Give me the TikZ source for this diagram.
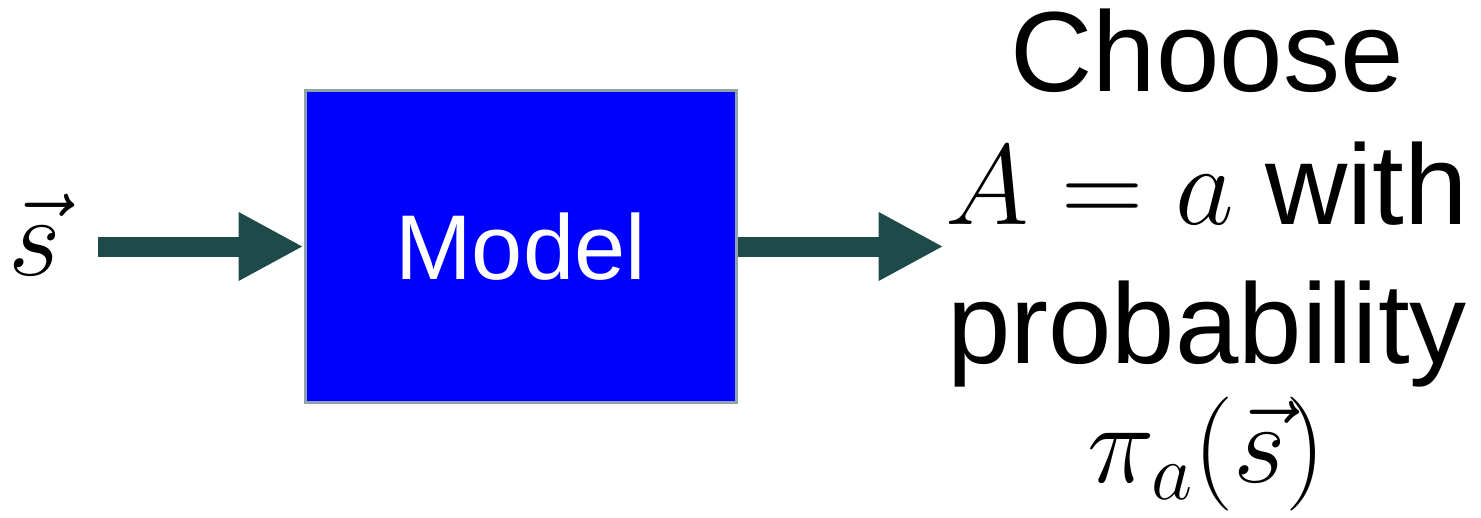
\RequirePackage{fix-cm}
\documentclass[tikz,border=0pt]{standalone}
\usepackage{fontspec}
\setmainfont{Liberation Sans}
\usetikzlibrary{arrows.meta}
\definecolor{arrowteal}{HTML}{1F4A4A}
\definecolor{boxedge}{HTML}{8FA3A8}
\begin{document}
\begin{tikzpicture}[x=0.5pt,y=-0.5pt,
  modelbox/.style={draw=boxedge, line width=1.5pt, fill=blue, text=white,
    minimum width=215.5pt, minimum height=155.5pt, inner sep=0pt,
    font=\fontsize{46}{55}\selectfont},
  bigtext/.style={inner sep=0pt, font=\fontsize{57}{66.5}\selectfont},
  flow/.style={draw=arrowteal, line width=10pt,
    -{Triangle[length=32.5pt,width=32pt,fill=arrowteal]}}]
  \useasboundingbox (0,0) rectangle (1481,518);
  \node[bigtext, anchor=base] (s) at (35,275) {$\vec{s}$};
  \node[modelbox] (model) at (520.5,246.5) {Model};
  % base anchor of a multi-line node sits on its last line
  \node[bigtext, align=center, anchor=base] (out) at (1207,482)
    {Choose\\ $A=a$ with\\[3pt] probability\\[-7pt] $\pi_a(\vec{s})$};
  \draw[flow, shorten <=18pt] (s.east |- model.west) -- (model.west);
  \draw[flow] (model.east) -- ([xshift=-1pt]model.east -| out.west);
\end{tikzpicture}
\end{document}
